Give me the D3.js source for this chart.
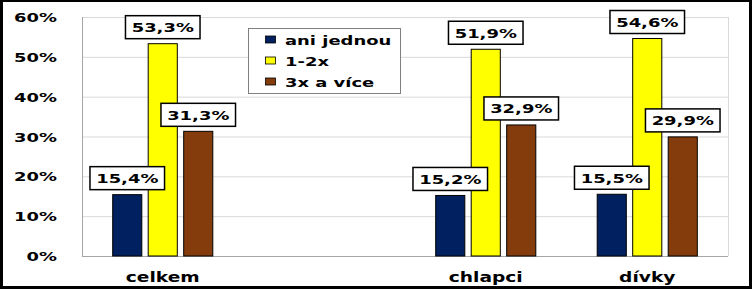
<!DOCTYPE html>
<html>
<head>
<meta charset="UTF-8">
<script src="https://d3js.org/d3.v7.min.js"></script>
<style>
  body { margin: 0; background: #000; }
  svg { display: block; }
</style>
</head>
<body>
<div id="chart"></div>
<script>
// data
var categories = ["celkem", "", "chlapci", "dívky"];
var seriesNames = ["ani jednou", "1-2x", "3x a více"];
var aniJednou = [15.4, null, 15.2, 15.5];
var jednouDvakrat = [53.3, null, 51.9, 54.6];
var triAVice = [31.3, null, 32.9, 29.9];
var yTicks = [0, 10, 20, 30, 40, 50, 60];
var colours = ["#002060", "#ffff00", "#843c0c"];

var W = 752, H = 289;
var stretch = 1.38;   // the original picture is wider than tall, text looks stretched
var font = "DejaVu Sans, Verdana, sans-serif";

var svg = d3.select("#chart").append("svg")
    .attr("width", W)
    .attr("height", H);

// black frame with white inside
svg.append("rect").attr("width", W).attr("height", H).attr("fill", "#000");
svg.append("rect").attr("x", 3).attr("y", 2).attr("width", W - 6).attr("height", H - 5).attr("fill", "#fff");

var plotLeft = 82, plotRight = 728, plotTop = 17, plotBottom = 256;

var x = d3.scaleBand().domain(categories).range([plotLeft, plotRight]);
var xInner = d3.scaleBand().domain(seriesNames).range([0, x.bandwidth()])
    .paddingInner(0.18).paddingOuter(0.865);
var y = d3.scaleLinear().domain([0, 60]).range([plotBottom, plotTop]);

// helper for stretched text
function stext(g, tx, ty, str, size, anchor) {
    return g.append("text")
        .attr("transform", "translate(" + tx + "," + ty + ") scale(" + stretch + ",1)")
        .attr("text-anchor", anchor || "middle")
        .attr("font-family", font)
        .attr("font-weight", "bold")
        .attr("font-size", size)
        .attr("fill", "#000")
        .text(str);
}

// gridlines
svg.append("g").selectAll("line")
    .data(yTicks)
    .enter().append("line")
    .attr("x1", plotLeft).attr("x2", plotRight)
    .attr("y1", function(d) { return y(d) + 0.5; })
    .attr("y2", function(d) { return y(d) + 0.5; })
    .attr("stroke", function(d) { return d === 0 ? "#a6a6a6" : "#d9d9d9"; })
    .attr("stroke-width", 1);

// plot area sides
svg.append("line").attr("x1", plotLeft + 0.5).attr("x2", plotLeft + 0.5)
    .attr("y1", plotTop).attr("y2", plotBottom)
    .attr("stroke", "#a6a6a6");
svg.append("line").attr("x1", plotRight + 0.5).attr("x2", plotRight + 0.5)
    .attr("y1", plotTop).attr("y2", plotBottom)
    .attr("stroke", "#d9d9d9");

// y tick labels
var yLab = svg.append("g");
yTicks.forEach(function(t) {
    stext(yLab, 57, y(t) + 5, t + "%", 13, "end");
});

// x labels
var xLab = svg.append("g");
categories.forEach(function(c) {
    if (c) stext(xLab, x(c) + x.bandwidth() / 2, 282, c, 13.5);
});

// bars
var allSeries = [aniJednou, jednouDvakrat, triAVice];
var rows = [];
allSeries.forEach(function(vals, s) {
    vals.forEach(function(v, i) {
        if (v !== null) rows.push({ cat: categories[i], s: s, v: v });
    });
});

svg.append("g").selectAll("rect")
    .data(rows)
    .enter().append("rect")
    .attr("x", function(d) { return x(d.cat) + xInner(seriesNames[d.s]); })
    .attr("y", function(d) { return y(d.v); })
    .attr("width", xInner.bandwidth())
    .attr("height", function(d) { return plotBottom - y(d.v); })
    .attr("fill", function(d) { return colours[d.s]; })
    .attr("stroke", "#000")
    .attr("stroke-width", 1);

// value labels in white boxes
var lab = svg.append("g");
rows.forEach(function(d) {
    var cx = x(d.cat) + xInner(seriesNames[d.s]) + xInner.bandwidth() / 2;
    var boxBottom = y(d.v) - 5;
    var str = d.v.toFixed(1).replace(".", ",") + "%";
    var box = lab.append("rect")
        .attr("y", boxBottom - 23)
        .attr("height", 23)
        .attr("fill", "#fff")
        .attr("stroke", "#000")
        .attr("stroke-width", 1.5);
    var t = stext(lab, cx, boxBottom - 6.5, str, 13);
    var w = t.node().getBBox().width * stretch + 12;
    box.attr("x", cx - w / 2).attr("width", w);
});

// legend
var lg = svg.append("g");
lg.append("rect")
    .attr("x", 248.5).attr("y", 28.5).attr("width", 152).attr("height", 65)
    .attr("fill", "#fff").attr("stroke", "#808080");
seriesNames.forEach(function(n, i) {
    var cy = 39.5 + i * 21;
    lg.append("rect")
        .attr("x", 265.5).attr("y", cy - 3.5).attr("width", 10).attr("height", 7)
        .attr("fill", colours[i]).attr("stroke", "#000").attr("stroke-width", 0.8);
    stext(lg, 285, cy + 5, n, 13, "start");
});
</script>
</body>
</html>
